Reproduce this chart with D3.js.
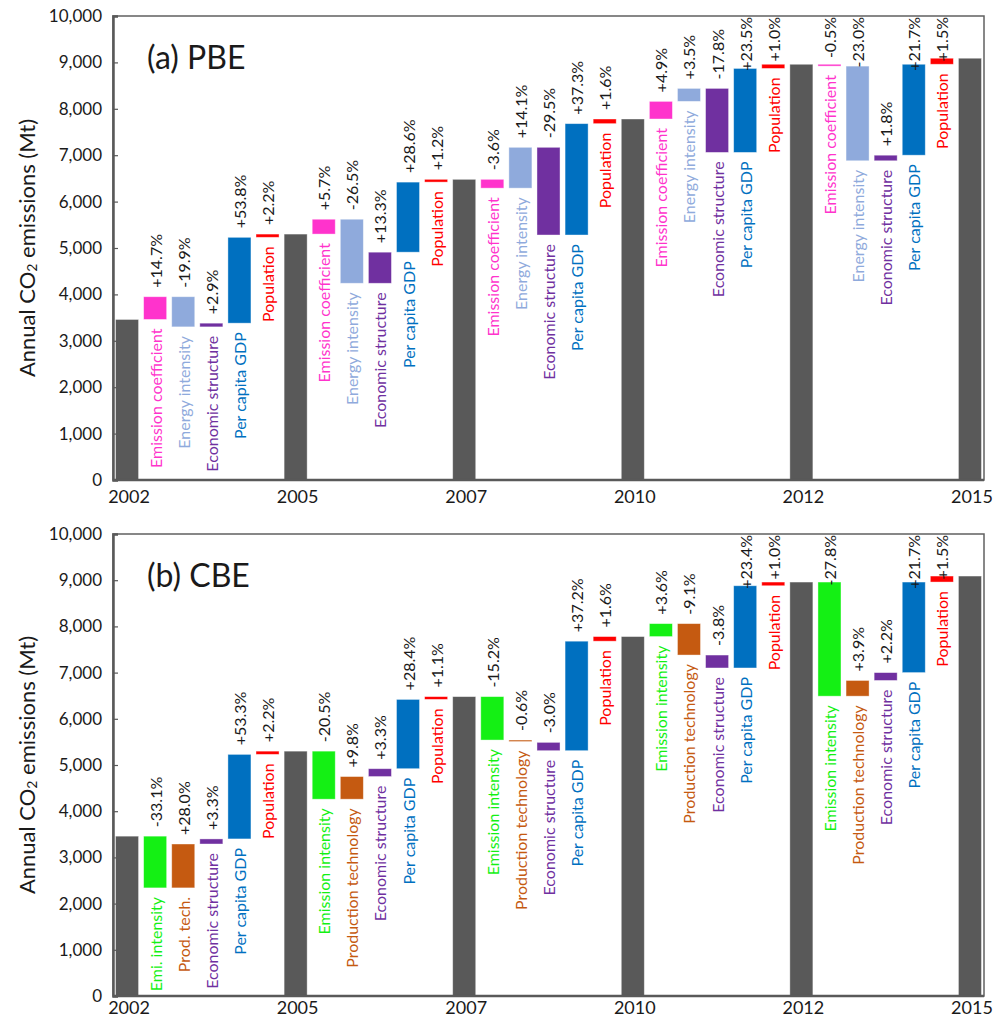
<!DOCTYPE html>
<html>
<head>
<meta charset="utf-8">
<script src="https://cdn.jsdelivr.net/npm/d3@7"></script>
<style>
  body { margin: 0; background: #fff; }
  text { font-family: Lato, "Open Sans", sans-serif; }
</style>
</head>
<body>
<svg id="chart" width="998" height="1021"></svg>
<script>

// ---- data (Mt) ----
var years = ['2002', '2005', '2007', '2010', '2012', '2015'];
var yTicks = [0, 1000, 2000, 3000, 4000, 5000, 6000, 7000, 8000, 9000, 10000];

// panel (a) production-based emissions
var pbeTotals = [3460, 5300, 6480, 7780, 8960, 9090];
var pbeFactors = ['Emission coefficient', 'Energy intensity', 'Economic structure', 'Per capita GDP', 'Population'];
var pbeFrom = [
  [3460, 3950, 3300, 3380, 5230],
  [5300, 5620, 4240, 4910, 6420],
  [6480, 6290, 7170, 5280, 7680],
  [7780, 8160, 8440, 7060, 8870],
  [8960, 8920, 6880, 7000, 8960]
];
var pbeTo = [
  [3950, 3300, 3380, 5230, 5300],
  [5620, 4240, 4910, 6420, 6480],
  [6290, 7170, 5280, 7680, 7780],
  [8160, 8440, 7060, 8870, 8960],
  [8920, 6880, 7000, 8960, 9090]
];
var pbePct = [
  ['+14.7%', '-19.9%', '+2.9%', '+53.8%', '+2.2%'],
  ['+5.7%', '-26.5%', '+13.3%', '+28.6%', '+1.2%'],
  ['-3.6%', '+14.1%', '-29.5%', '+37.3%', '+1.6%'],
  ['+4.9%', '+3.5%', '-17.8%', '+23.5%', '+1.0%'],
  ['-0.5%', '-23.0%', '+1.8%', '+21.7%', '+1.5%']
];

// panel (b) consumption-based emissions
var cbeTotals = [3460, 5300, 6480, 7780, 8960, 9090];
var cbeFactors = ['Emission intensity', 'Production technology', 'Economic structure', 'Per capita GDP', 'Population'];
var cbeFirstFactors = ['Emi. intensity', 'Prod. tech.', 'Economic structure', 'Per capita GDP', 'Population'];
var cbeFrom = [
  [3460, 2340, 3290, 3400, 5230],
  [5300, 4260, 4750, 4920, 6420],
  [6480, 5540, 5490, 5310, 7680],
  [7780, 8060, 7380, 7100, 8880],
  [8960, 6490, 6830, 7000, 8960]
];
var cbeTo = [
  [2340, 3290, 3400, 5230, 5300],
  [4260, 4750, 4920, 6420, 6480],
  [5540, 5510, 5310, 7680, 7780],
  [8060, 7380, 7100, 8880, 8960],
  [6490, 6830, 7000, 8960, 9090]
];
var cbePct = [
  ['-33.1%', '+28.0%', '+3.3%', '+53.3%', '+2.2%'],
  ['-20.5%', '+9.8%', '+3.3%', '+28.4%', '+1.1%'],
  ['-15.2%', '-0.6%', '-3.0%', '+37.2%', '+1.6%'],
  ['+3.6%', '-9.1%', '-3.8%', '+23.4%', '+1.0%'],
  ['-27.8%', '+3.9%', '+2.2%', '+21.7%', '+1.5%']
];

var pbeColors = ['#ff33cc', '#8faadc', '#7030a0', '#0070c0', '#ff0000'];
var cbeColors = ['#14f014', '#c55a11', '#7030a0', '#0070c0', '#ff0000'];
var totalColor = '#595959';

var svg = d3.select('#chart');

function drawPanel(opt) {

  // flatten into 31 slots: total, 5 effects, total, ...
  var slots = [];
  opt.totals.forEach(function(t, i) {
    slots.push({ kind: 'total', lo: 0, hi: t, year: years[i] });
    if (i < opt.totals.length - 1) {
      for (var j = 0; j < 5; j++) {
        var a = opt.from[i][j], b = opt.to[i][j];
        slots.push({
          kind: 'effect',
          lo: Math.min(a, b), hi: Math.max(a, b),
          name: (i === 0 && opt.firstNames ? opt.firstNames : opt.names)[j],
          pct: opt.pct[i][j],
          color: opt.colors[j]
        });
      }
    }
  });

  var x = d3.scaleBand()
    .domain(d3.range(slots.length))
    .range([opt.left, opt.right])
    .paddingInner(0.18)
    .paddingOuter(0.09);

  var y = d3.scaleLinear().domain([0, 10000]).range([opt.bottom, opt.top]);

  var g = svg.append('g');

  // frame
  g.append('rect')
    .attr('x', opt.left).attr('y', opt.top)
    .attr('width', opt.right - opt.left).attr('height', opt.bottom - opt.top)
    .attr('fill', 'none').attr('stroke', '#606060').attr('stroke-width', 1.5);

  // bars
  g.selectAll('rect.bar')
    .data(slots)
    .enter().append('rect')
      .attr('class', 'bar')
      .attr('x', function(d, i) { return x(i); })
      .attr('width', x.bandwidth())
      .attr('y', function(d) { return y(d.hi); })
      .attr('height', function(d) { return Math.max(1.5, y(d.lo) - y(d.hi)); })
      .attr('fill', function(d) { return d.kind === 'total' ? totalColor : d.color; })
      .attr('stroke', '#ffffff').attr('stroke-opacity', 0.5).attr('stroke-width', 0.8);

  // y axis, ticks inside
  var yAxis = d3.axisLeft(y)
    .tickValues(yTicks)
    .tickSize(-5)
    .tickPadding(11)
    .tickFormat(d3.format(','));

  var ax = g.append('g')
    .attr('transform', 'translate(' + opt.left + ',0)')
    .call(yAxis);
  ax.select('.domain').attr('stroke', '#595959').attr('stroke-width', 2.5);
  ax.selectAll('.tick line').attr('stroke', '#595959').attr('stroke-width', 1.2);
  ax.selectAll('.tick text')
    .attr('font-size', 17)
    .attr('fill', '#1a1a1a')
    .style('font-family', 'Lato, sans-serif');

  // x axis baseline
  g.append('line')
    .attr('x1', opt.left).attr('x2', opt.right)
    .attr('y1', opt.bottom).attr('y2', opt.bottom)
    .attr('stroke', '#595959').attr('stroke-width', 2.5);

  // year labels under the totals
  g.selectAll('text.year')
    .data(slots.map(function(d, i) { return { d: d, i: i }; }).filter(function(e) { return e.d.kind === 'total'; }))
    .enter().append('text')
      .attr('class', 'year')
      .attr('x', function(e) { return x(e.i) + x.bandwidth() / 2 + 2; })
      .attr('y', opt.bottom + opt.yearGap)
      .attr('text-anchor', 'middle')
      .attr('font-size', 18)
      .attr('fill', '#1a1a1a')
      .text(function(e) { return e.d.year; });

  // factor names below each effect bar
  var effects = slots.map(function(d, i) { return { d: d, i: i }; })
    .filter(function(e) { return e.d.kind === 'effect'; });

  g.selectAll('text.name')
    .data(effects)
    .enter().append('text')
      .attr('class', 'name')
      .attr('transform', function(e) {
        var cx = x(e.i) + x.bandwidth() / 2;
        return 'translate(' + cx + ',' + (y(e.d.lo) + 9) + ') rotate(-90)';
      })
      .attr('text-anchor', 'end')
      .attr('dominant-baseline', 'central')
      .attr('font-size', 16)
      .attr('fill', function(e) { return e.d.color; })
      .text(function(e) { return e.d.name; });

  // percentage labels above each effect bar, kept inside the frame
  g.selectAll('text.pct')
    .data(effects)
    .enter().append('text')
      .attr('class', 'pct')
      .attr('text-anchor', 'start')
      .attr('dominant-baseline', 'central')
      .attr('font-size', 16)
      .attr('fill', '#1a1a1a')
      .text(function(e) { return e.d.pct; })
      .each(function(e) {
        var len = this.getComputedTextLength();
        var cx = x(e.i) + x.bandwidth() / 2;
        var ay = Math.max(y(e.d.hi) - 9, opt.top + len + 1);
        d3.select(this).attr('transform', 'translate(' + cx + ',' + ay + ') rotate(-90)');
      });

  // panel title
  g.append('text')
    .attr('x', opt.left + 34)
    .attr('y', opt.top + 53)
    .attr('font-size', 32)
    .attr('fill', '#1a1a1a')
    .text(opt.title);

  // y axis title with subscript
  var yt = g.append('text')
    .attr('transform', 'translate(26,' + ((opt.top + opt.bottom) / 2) + ') rotate(-90)')
    .attr('text-anchor', 'middle')
    .attr('dominant-baseline', 'central')
    .attr('font-size', 22)
    .attr('fill', '#1a1a1a');
  yt.append('tspan').text('Annual CO');
  yt.append('tspan').attr('font-size', 14).attr('dy', 5).text('2');
  yt.append('tspan').attr('dy', -5).text(' emissions (Mt)');
}

drawPanel({
  title: '(a) PBE',
  left: 113, right: 984, top: 16, bottom: 480, yearGap: 23,
  totals: pbeTotals, from: pbeFrom, to: pbeTo, pct: pbePct,
  names: pbeFactors, colors: pbeColors
});

drawPanel({
  title: '(b) CBE',
  left: 113, right: 984, top: 534, bottom: 996, yearGap: 18,
  totals: cbeTotals, from: cbeFrom, to: cbeTo, pct: cbePct,
  names: cbeFactors, firstNames: cbeFirstFactors, colors: cbeColors
});

</script>
</body>
</html>
